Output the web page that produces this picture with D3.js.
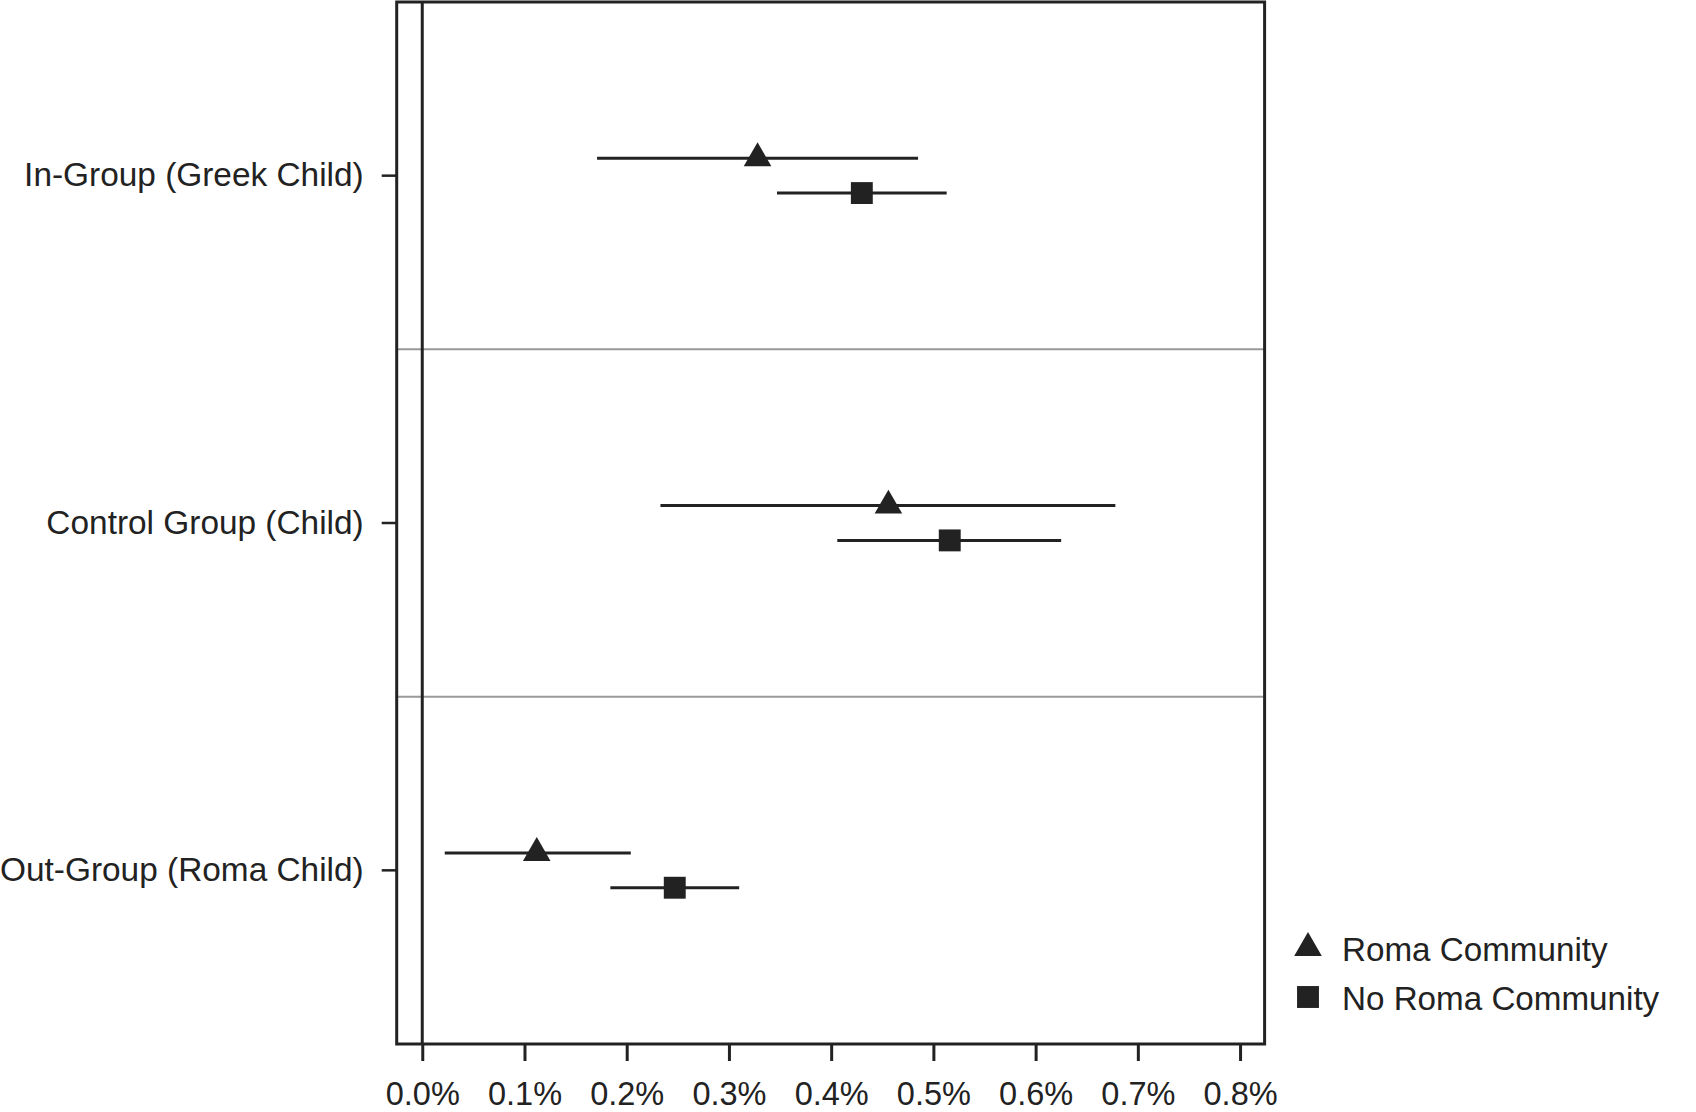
<!DOCTYPE html>
<html>
<head>
<meta charset="utf-8">
<script src="https://cdn.jsdelivr.net/npm/d3@7"></script>
<style>
  body { margin: 0; background: #fff; }
  svg text { font-family: "Liberation Sans", Arial, sans-serif; fill: #222; }
</style>
</head>
<body>
<div id="chart"></div>
<script>
let categories = ['In-Group (Greek Child)', 'Control Group (Child)', 'Out-Group (Roma Child)']
let seriesNames = ['Roma Community', 'No Roma Community']

// point estimates and confidence bounds, in percent
let romaPoint = [0.328, 0.456, 0.112]
let romaLow = [0.171, 0.233, 0.022]
let romaHigh = [0.485, 0.678, 0.204]
let noRomaPoint = [0.430, 0.516, 0.247]
let noRomaLow = [0.347, 0.406, 0.184]
let noRomaHigh = [0.513, 0.625, 0.310]

let xTicks = [0, 0.1, 0.2, 0.3, 0.4, 0.5, 0.6, 0.7, 0.8]

let width = 1696
let height = 1112
let ink = '#222'

let svg = d3.select('#chart').append('svg')
    .attr('width', width)
    .attr('height', height)

let x = d3.scaleLinear()
    .domain([-0.025, 0.824])
    .range([396.7, 1264.6])

let y = d3.scaleBand()
    .domain(categories)
    .range([2, 1044])

let offset = 17.4

// separators between groups
svg.selectAll('.sep')
    .data(categories.slice(1))
    .enter().append('line')
    .attr('x1', x.range()[0])
    .attr('x2', x.range()[1])
    .attr('y1', d => y(d))
    .attr('y2', d => y(d))
    .attr('stroke', '#999')
    .attr('stroke-width', 2)

// zero line
svg.append('line')
    .attr('x1', x(0))
    .attr('x2', x(0))
    .attr('y1', y.range()[0])
    .attr('y2', y.range()[1])
    .attr('stroke', ink)
    .attr('stroke-width', 3)

// bottom axis
let xAxis = svg.append('g')
    .attr('transform', `translate(0,${y.range()[1]})`)
    .call(d3.axisBottom(x)
        .tickValues(xTicks)
        .tickSize(17)
        .tickPadding(21)
        .tickFormat(d => d3.format('.1f')(d) + '%'))
xAxis.select('.domain').remove()
xAxis.selectAll('line').attr('stroke', ink).attr('stroke-width', 3)
xAxis.selectAll('text')
    .style('font-size', '32.5px')
    .style('font-family', '"Liberation Sans", Arial, sans-serif')
    .attr('fill', ink)

// left axis
let yAxis = svg.append('g')
    .attr('transform', `translate(${x.range()[0]},0)`)
    .call(d3.axisLeft(y)
        .tickSize(15)
        .tickPadding(18))
yAxis.select('.domain').remove()
yAxis.selectAll('line').attr('stroke', ink).attr('stroke-width', 2.5)
yAxis.selectAll('text')
    .style('font-size', '33.4px')
    .style('font-family', '"Liberation Sans", Arial, sans-serif')
    .attr('fill', ink)

// frame
svg.append('rect')
    .attr('x', x.range()[0])
    .attr('y', y.range()[0])
    .attr('width', x.range()[1] - x.range()[0])
    .attr('height', y.range()[1] - y.range()[0])
    .attr('fill', 'none')
    .attr('stroke', ink)
    .attr('stroke-width', 3)

let center = d => y(d) + y.bandwidth() / 2

let triangle = d3.symbol().type(d3.symbolTriangle).size(330)
let square = d3.symbol().type(d3.symbolSquare).size(480)

let series = [
    { name: seriesNames[0], point: romaPoint, low: romaLow, high: romaHigh, dy: -offset, shape: triangle },
    { name: seriesNames[1], point: noRomaPoint, low: noRomaLow, high: noRomaHigh, dy: offset, shape: square }
]

series.forEach(s => {
    let g = svg.append('g')
    g.selectAll('line')
        .data(categories)
        .enter().append('line')
        .attr('x1', (d, i) => x(s.low[i]))
        .attr('x2', (d, i) => x(s.high[i]))
        .attr('y1', d => center(d) + s.dy)
        .attr('y2', d => center(d) + s.dy)
        .attr('stroke', ink)
        .attr('stroke-width', 3)
    g.selectAll('path')
        .data(categories)
        .enter().append('path')
        .attr('d', s.shape)
        .attr('transform', (d, i) => `translate(${x(s.point[i])},${center(d) + s.dy})`)
        .attr('fill', ink)
})

// legend
let legend = svg.append('g')
    .attr('transform', 'translate(1308,0)')
let legendY = [948, 997]
series.forEach((s, i) => {
    legend.append('path')
        .attr('d', s.shape)
        .attr('transform', `translate(0,${legendY[i]})`)
        .attr('fill', ink)
    legend.append('text')
        .attr('x', 34)
        .attr('y', legendY[i] + 1)
        .attr('dy', '0.35em')
        .style('font-size', '33.2px')
        .text(s.name)
})
</script>
</body>
</html>
